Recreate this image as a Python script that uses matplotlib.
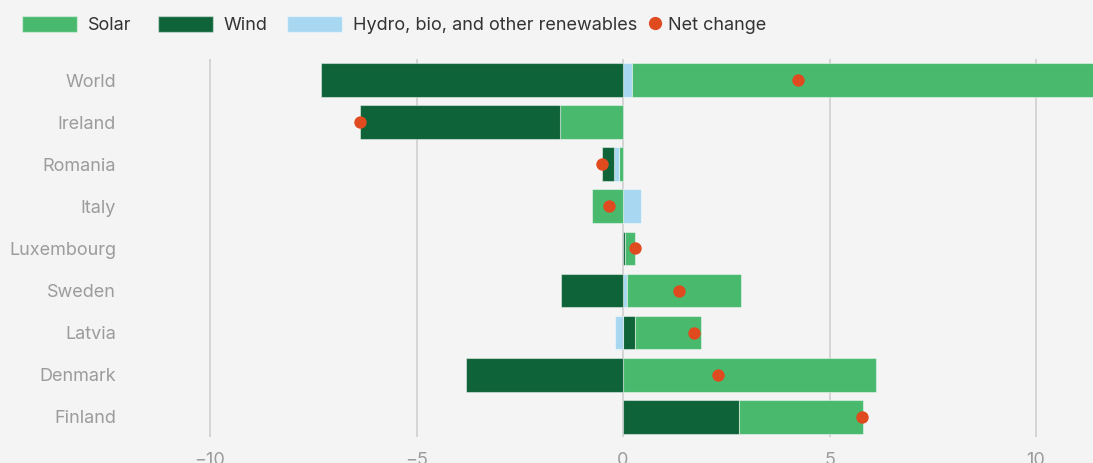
import numpy as np
import matplotlib
matplotlib.use('Agg')
import matplotlib.pyplot as plt
from matplotlib.patches import Patch
from matplotlib.lines import Line2D

plt.rcParams['font.family'] = ['Inter', 'DejaVu Sans']

# data
countries = ['World', 'Ireland', 'Romania', 'Italy', 'Luxembourg',
             'Sweden', 'Latvia', 'Denmark', 'Finland']
solar = [11.33, -1.53, -0.10, -0.75, 0.26, 2.76, 1.60, 6.13, 2.99]
wind = [-7.31, -4.83, -0.29, 0.0, 0.04, -1.51, 0.29, -3.80, 2.81]
hydro = [0.22, 0.0, -0.12, 0.43, 0.0, 0.10, -0.20, 0.0, 0.0]
net = [4.24, -6.37, -0.52, -0.33, 0.28, 1.36, 1.71, 2.30, 5.79]
xticks = [-10, -5, 0, 5, 10]

BG = '#f4f4f4'
HYDRO = 'Hydro, bio, and other renewables'
colors = {'Solar': '#48b96d', 'Wind': '#0e6338', HYDRO: '#a8d8f1'}
DOT = '#e04a1f'
EDGE = (1, 1, 1, 0.45)

series = {'Solar': np.array(solar), 'Wind': np.array(wind),
          HYDRO: np.array(hydro)}
pos_order = [HYDRO, 'Wind', 'Solar']
neg_order = ['Solar', HYDRO, 'Wind']

fig = plt.figure(figsize=(10.93, 4.63), dpi=100, facecolor=BG)
ax = fig.add_axes([130 / 1093, 26 / 463, 1 - 130 / 1093, (437 - 59) / 463])
ax.set_facecolor(BG)

y = np.arange(len(countries))
h = 0.8

# diverging stack
pos_base = np.zeros(len(countries))
for name in pos_order:
    v = np.clip(series[name], 0, None)
    m = v > 0
    ax.barh(y[m], v[m], left=pos_base[m], height=h, color=colors[name],
            edgecolor=EDGE, linewidth=0.8, zorder=2)
    pos_base += v

neg_base = np.zeros(len(countries))
for name in neg_order:
    v = np.clip(series[name], None, 0)
    m = v < 0
    ax.barh(y[m], v[m], left=neg_base[m], height=h, color=colors[name],
            edgecolor=EDGE, linewidth=0.8, zorder=2)
    neg_base += v

ax.scatter(net, y, s=80, color=DOT, zorder=3, linewidths=0)

ax.set_xlim((130 - 623) / 41.3, (1093 - 623) / 41.3)
ax.set_ylim(8.48, -0.5)
ax.set_xticks(xticks)
ax.set_xticklabels([str(t).replace('-', '\u2212') for t in xticks])
ax.set_yticks(y)
ax.set_yticklabels(countries)
ax.tick_params(axis='both', length=0, labelsize=13, colors='#9c9c9c')
ax.tick_params(axis='x', pad=11)
ax.tick_params(axis='y', pad=10)
ax.grid(axis='x', color='#d2d2d2', linewidth=1.3, zorder=0)
ax.set_axisbelow(True)
for s in ax.spines.values():
    s.set_visible(False)

# legend: one small legend per item, placed like the reference
legend_items = [
    (Patch(facecolor=colors['Solar'], edgecolor=EDGE, label='Solar'), 22, 3.05, 0.6),
    (Patch(facecolor=colors['Wind'], edgecolor=EDGE, label='Wind'), 158, 3.05, 0.6),
    (Patch(facecolor=colors[HYDRO], edgecolor=EDGE, label=HYDRO), 287, 3.05, 0.6),
    (Line2D([], [], marker='o', linestyle='none', color=DOT, markersize=8.5,
            label='Net change'), 649, 0.7, 0.37),
]
for handle, x0, hl, tp in legend_items:
    leg = fig.legend(handles=[handle], loc='center left',
                     bbox_to_anchor=(x0 / 1093, 1 - 25 / 463),
                     frameon=False, fontsize=13, borderpad=0, borderaxespad=0,
                     handlelength=hl, handleheight=1.05, handletextpad=tp,
                     labelcolor='#333333')

fig.savefig('out.png', dpi=100, facecolor=BG)
